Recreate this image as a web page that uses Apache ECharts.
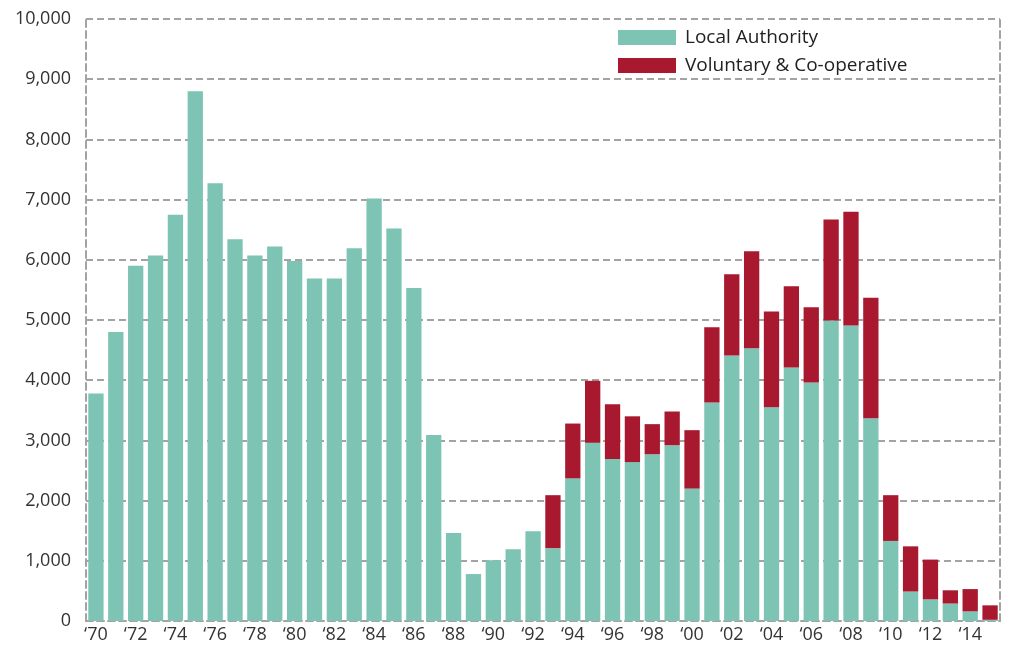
<!DOCTYPE html>
<html>
<head>
<meta charset="utf-8">
<script src="https://cdn.jsdelivr.net/npm/echarts@6/dist/echarts.min.js"></script>
<style>html,body{margin:0;padding:0;background:#fff}#c{width:1009px;height:649px}</style>
</head>
<body>
<div id="c"></div>
<script>
const years = ['‘70','‘71','‘72','‘73','‘74','‘75','‘76','‘77','‘78','‘79','‘80','‘81','‘82','‘83','‘84','‘85','‘86','‘87','‘88','‘89','‘90','‘91','‘92','‘93','‘94','‘95','‘96','‘97','‘98','‘99','‘00','‘01','‘02','‘03','‘04','‘05','‘06','‘07','‘08','‘09','‘10','‘11','‘12','‘13','‘14','‘15'];
const localAuthority = [3780,4800,5900,6070,6750,8800,7270,6340,6070,6220,5980,5690,5690,6190,7020,6520,5530,3090,1460,780,1010,1190,1490,1210,2370,2960,2690,2640,2770,2920,2200,3630,4410,4530,3550,4210,3960,4990,4910,3370,1330,490,360,290,160,20];
const totals = [3780,4800,5900,6070,6750,8800,7270,6340,6070,6220,5980,5690,5690,6190,7020,6520,5530,3090,1460,780,1010,1190,1490,2090,3280,3990,3600,3400,3270,3480,3170,4880,5760,6140,5140,5560,5210,6670,6800,5370,2090,1240,1020,510,530,260];
const voluntary = totals.map((t,i)=>t-localAuthority[i]);
const yTicks = [0,1000,2000,3000,4000,5000,6000,7000,8000,9000,10000];

const font = 'Open Sans';
const dash = {color:'#a3a3a3', width:2, type:[7,4]};
const chart = echarts.init(document.getElementById('c'));
chart.setOption({
  animation:false,
  textStyle:{fontFamily:font},
  grid:{left:86,right:9,top:19,bottom:28,containLabel:false},
  legend:{
    orient:'vertical', left:613, top:23, itemWidth:58, itemHeight:15, itemGap:9,
    icon:'rect',
    textStyle:{fontFamily:font,fontSize:19,fontWeight:400,color:'#222',padding:[0,0,0,4]},
    data:['Local Authority','Voluntary & Co-operative']
  },
  xAxis:[{
    type:'category', data:years,
    axisLine:{show:true,lineStyle:dash},
    axisTick:{show:false},
    axisLabel:{interval:1,fontFamily:font,fontSize:18,color:'#333',margin:5}
  }],
  yAxis:[{
    type:'value', min:0, max:10000, interval:1000,
    axisLine:{show:true,lineStyle:dash},
    axisTick:{show:false},
    splitLine:{show:true,lineStyle:dash},
    axisLabel:{fontFamily:font,fontSize:18,color:'#333',margin:15,
      formatter:v=>yTicks.includes(v)?v.toLocaleString('en-US'):''}
  },{
    type:'value', min:0, max:10000, interval:1000, position:'right',
    axisLine:{show:true,lineStyle:dash},
    axisTick:{show:false}, axisLabel:{show:false}, splitLine:{show:false}
  }],
  series:[{
    name:'Local Authority', type:'bar', stack:'t', data:localAuthority,
    barWidth:'77%', itemStyle:{color:'#7dc4b5'}
  },{
    name:'Voluntary & Co-operative', type:'bar', stack:'t', data:voluntary,
    itemStyle:{color:'#a8182e'}
  }]
});
</script>
</body>
</html>
